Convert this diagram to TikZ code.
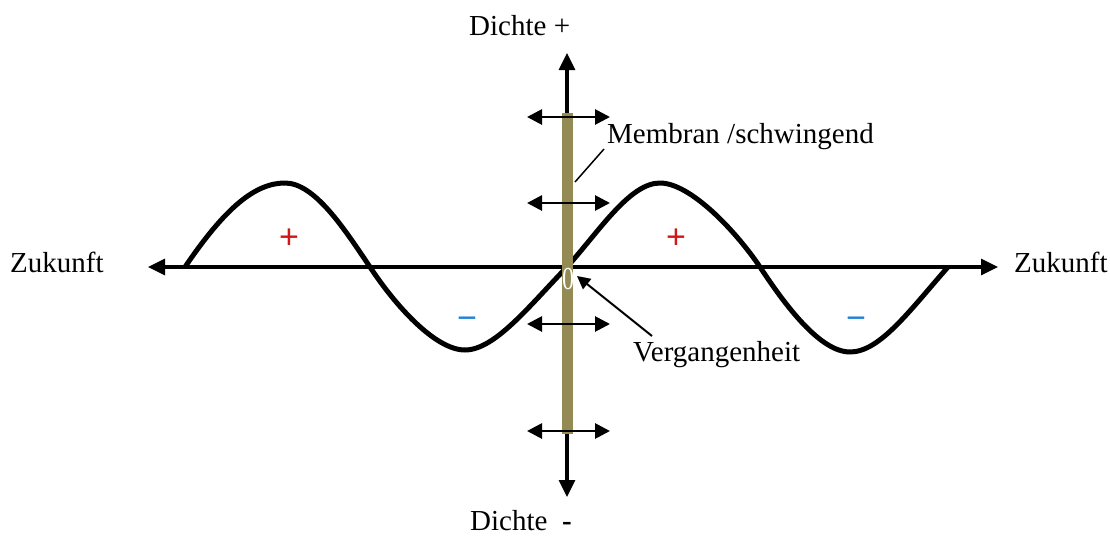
\documentclass[tikz,border=0pt]{standalone}
\usepackage{fontspec}
\setmainfont{Liberation Serif}
\newfontfamily\signfont{Liberation Sans}
\usetikzlibrary{arrows.meta}
\definecolor{membr}{HTML}{948A54}
\definecolor{plusred}{HTML}{D01818}
\definecolor{minblue}{RGB}{30,130,215}
\tikzset{
  axis/.style={line width=3.3pt,{Triangle[length=17pt,width=16pt]}-{Triangle[length=17pt,width=16pt]}},
  axisone/.style={line width=3.3pt,-{Triangle[length=17pt,width=16pt]}},
  osc/.style={line width=2.8pt,{Triangle[length=15pt,width=15pt]}-{Triangle[length=15pt,width=15pt]}},
  wave/.style={line width=5pt,line join=round},
  lbl/.style={font=\fontsize{29}{34}\selectfont,inner sep=0pt,anchor=base west},
  sign/.style={font=\signfont\fontsize{34}{40}\selectfont,inner sep=0pt},
}
\begin{document}
\begin{tikzpicture}[x=1pt,y=-1pt]
\useasboundingbox (0,0) rectangle (1110,535);
% axes
\coordinate (L) at (148,267);
\coordinate (R) at (998,267);
\coordinate (T) at (567,53);
\coordinate (B) at (567,497);
\coordinate (C) at (567,267);
\draw[axis] (L) -- (R);
\draw[axisone] (C) -- (T);
\draw[axisone] (C) -- (B);
% waves
\draw[wave] (185,267) .. controls (225,208) and (255,183) .. (285,183)
  .. controls (315,183) and (345,230) .. (370,267)
  .. controls (395,305) and (435,350) .. (465,350)
  .. controls (495,350) and (530,305) .. (567,267)
  .. controls (600,230) and (630,183) .. (660,183)
  .. controls (690,183) and (735,230) .. (760,267)
  .. controls (785,305) and (820,352) .. (850,352)
  .. controls (880,352) and (910,310) .. (948,267);
% membrane
\fill[membr] (562,113) rectangle (573,434);
% oscillation arrows
\coordinate (o1a) at (527,117); \coordinate (o1b) at (610,117);
\coordinate (o2a) at (527,203); \coordinate (o2b) at (610,203);
\coordinate (o3a) at (527,324); \coordinate (o3b) at (610,324);
\coordinate (o4a) at (527,431); \coordinate (o4b) at (610,431);
\draw[osc] (o1a) -- (o1b);
\draw[osc] (o2a) -- (o2b);
\draw[osc] (o3a) -- (o3b);
\draw[osc] (o4a) -- (o4b);
% zero
\node[lbl,font=\fontsize{32}{34}\selectfont,text=white,anchor=base,xscale=0.75] (zero) at (568,289) {0};
% labels
\node[lbl] (zl) at (10,272) {Zukunft};
\node[lbl] (zr) at (1014,272) {Zukunft};
\node[lbl] (dp) at (469,36) {Dichte +};
\node[lbl] (dm) at (470,530) {Dichte\ \ \textbf{-}};
\node[lbl] (mem) at (607,143) {Membran /schwingend};
\node[lbl] (verg) at (633,361) {Vergangenheit};
% pointer lines
\coordinate (memA) at (604,149);
\coordinate (memB) at (575,182);
\draw[line width=1.5pt] (memA) -- (memB);
\coordinate (vA) at (652,336);
\coordinate (vB) at (577,276);
\draw[line width=2pt,-{Triangle[length=13pt,width=13pt]}] (vA) -- (vB);
% signs
\node[sign,text=plusred] (p1) at (289,239) {+};
\node[sign,text=plusred] (p2) at (676,239) {+};
\node[sign,text=minblue] (m1) at (467,323) {−};
\node[sign,text=minblue] (m2) at (856,323) {−};
\end{tikzpicture}
\end{document}
